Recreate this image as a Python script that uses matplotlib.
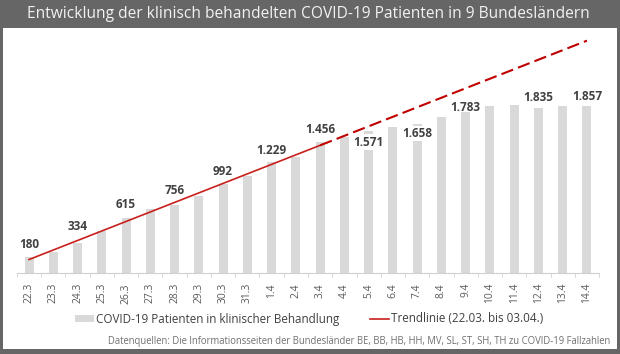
import numpy as np
import matplotlib
matplotlib.use("Agg")
import matplotlib.pyplot as plt
from matplotlib.patches import Rectangle

plt.rcParams['font.family'] = ['Open Sans', 'DejaVu Sans']

days = ["22.3", "23.3", "24.3", "25.3", "26.3", "27.3", "28.3", "29.3", "30.3", "31.3",
        "1.4", "2.4", "3.4", "4.4", "5.4", "6.4", "7.4", "8.4", "9.4", "10.4",
        "11.4", "12.4", "13.4", "14.4"]
patients = [180, 240, 334, 472, 615, 709, 756, 856, 992, 1077,
            1229, 1284, 1456, 1513, 1571, 1620, 1658, 1734, 1783, 1857,
            1866, 1835, 1857, 1857]
# which bars get a value label, and pixel offset of the label centre from the bar top
labelled = {0: 13, 2: 17, 4: 13, 6: 15, 8: 12, 10: 12, 12: 12,
            14: -11, 16: -10, 18: 5, 21: 10, 23: 9}
trend_end = 12  # trend fitted on 22.03. to 03.04.

frame = "#666666"
fig = plt.figure(figsize=(6.2, 3.54), dpi=100, facecolor=frame)
fig.patches.append(Rectangle((3 / 620, 5 / 354), 614 / 620, (354 - 28 - 5) / 354,
                             transform=fig.transFigure, facecolor="white",
                             edgecolor="none", zorder=-10))
fig.text(0.498, 1 - 14 / 354, "Entwicklung der klinisch behandelten COVID-19 Patienten in 9 Bundesländern",
         color="#f2f2f2", fontsize=11.2, ha="center", va="center")

ax = fig.add_axes([16.9 / 620, (354 - 273.3) / 354, 582.2 / 620, 243.9 / 354])
ax.set_facecolor("none")
x = np.arange(len(days))
bars = ax.bar(x, patients, width=0.37, color="#d9d9d9", zorder=1,
              label="COVID-19 Patienten in klinischer Behandlung")

k, d = np.polyfit(x[:trend_end + 1], patients[:trend_end + 1], 1)
xs = np.array([0, trend_end])
trend, = ax.plot(xs, k * xs + d, color="#c8201a", lw=1.2, zorder=2,
                 label="Trendlinie (22.03. bis 03.04.)")
xd = np.array([trend_end, len(days) - 1])
ax.plot(xd, k * xd + d, color="#c00000", lw=1.5, ls=(0, (6, 2.5)), zorder=2)

for i, off in labelled.items():
    v = patients[i]
    txt = f"{v:,}".replace(",", ".")
    bb = dict(facecolor="white", edgecolor="none", pad=1) if off < 0 else None
    ax.annotate(txt, (i, v), xytext=(0, off), textcoords="offset pixels",
                ha="center", va="center", fontsize=8.5, fontweight="bold",
                color="#404040", bbox=bb, zorder=3)

ax.set_xlim(-0.5, len(days) - 0.5)
ax.set_ylim(0, 2700)
ax.set_yticks([])
for s in ["top", "right", "left"]:
    ax.spines[s].set_visible(False)
ax.spines["bottom"].set_color("#d0d0d0")
ax.set_xticks(x)
ax.set_xticklabels(days, rotation=90, fontsize=7.4, color="#595959")
ax.tick_params(axis="x", which="major", length=0, pad=7)
ax.set_xticks(np.arange(-0.5, len(days)), minor=True)
ax.tick_params(axis="x", which="minor", length=3, color="#d0d0d0")

fig.legend(handles=[bars, trend], loc="center", bbox_to_anchor=(0.499, 1 - 319 / 354),
           ncol=2, frameon=False, fontsize=8.4, labelcolor="#404040",
           handlelength=1.6, handleheight=0.5, handletextpad=0.2, columnspacing=2.6)

fig.text(610 / 620, 1 - 341.5 / 354,
         "Datenquellen: Die Informationsseiten der Bundesländer BE, BB, HB, HH, MV, SL, ST, SH, TH zu COVID-19 Fallzahlen",
         color="#707070", fontsize=6.85, ha="right", va="center")

fig.savefig("out.png", dpi=100, facecolor=frame)
